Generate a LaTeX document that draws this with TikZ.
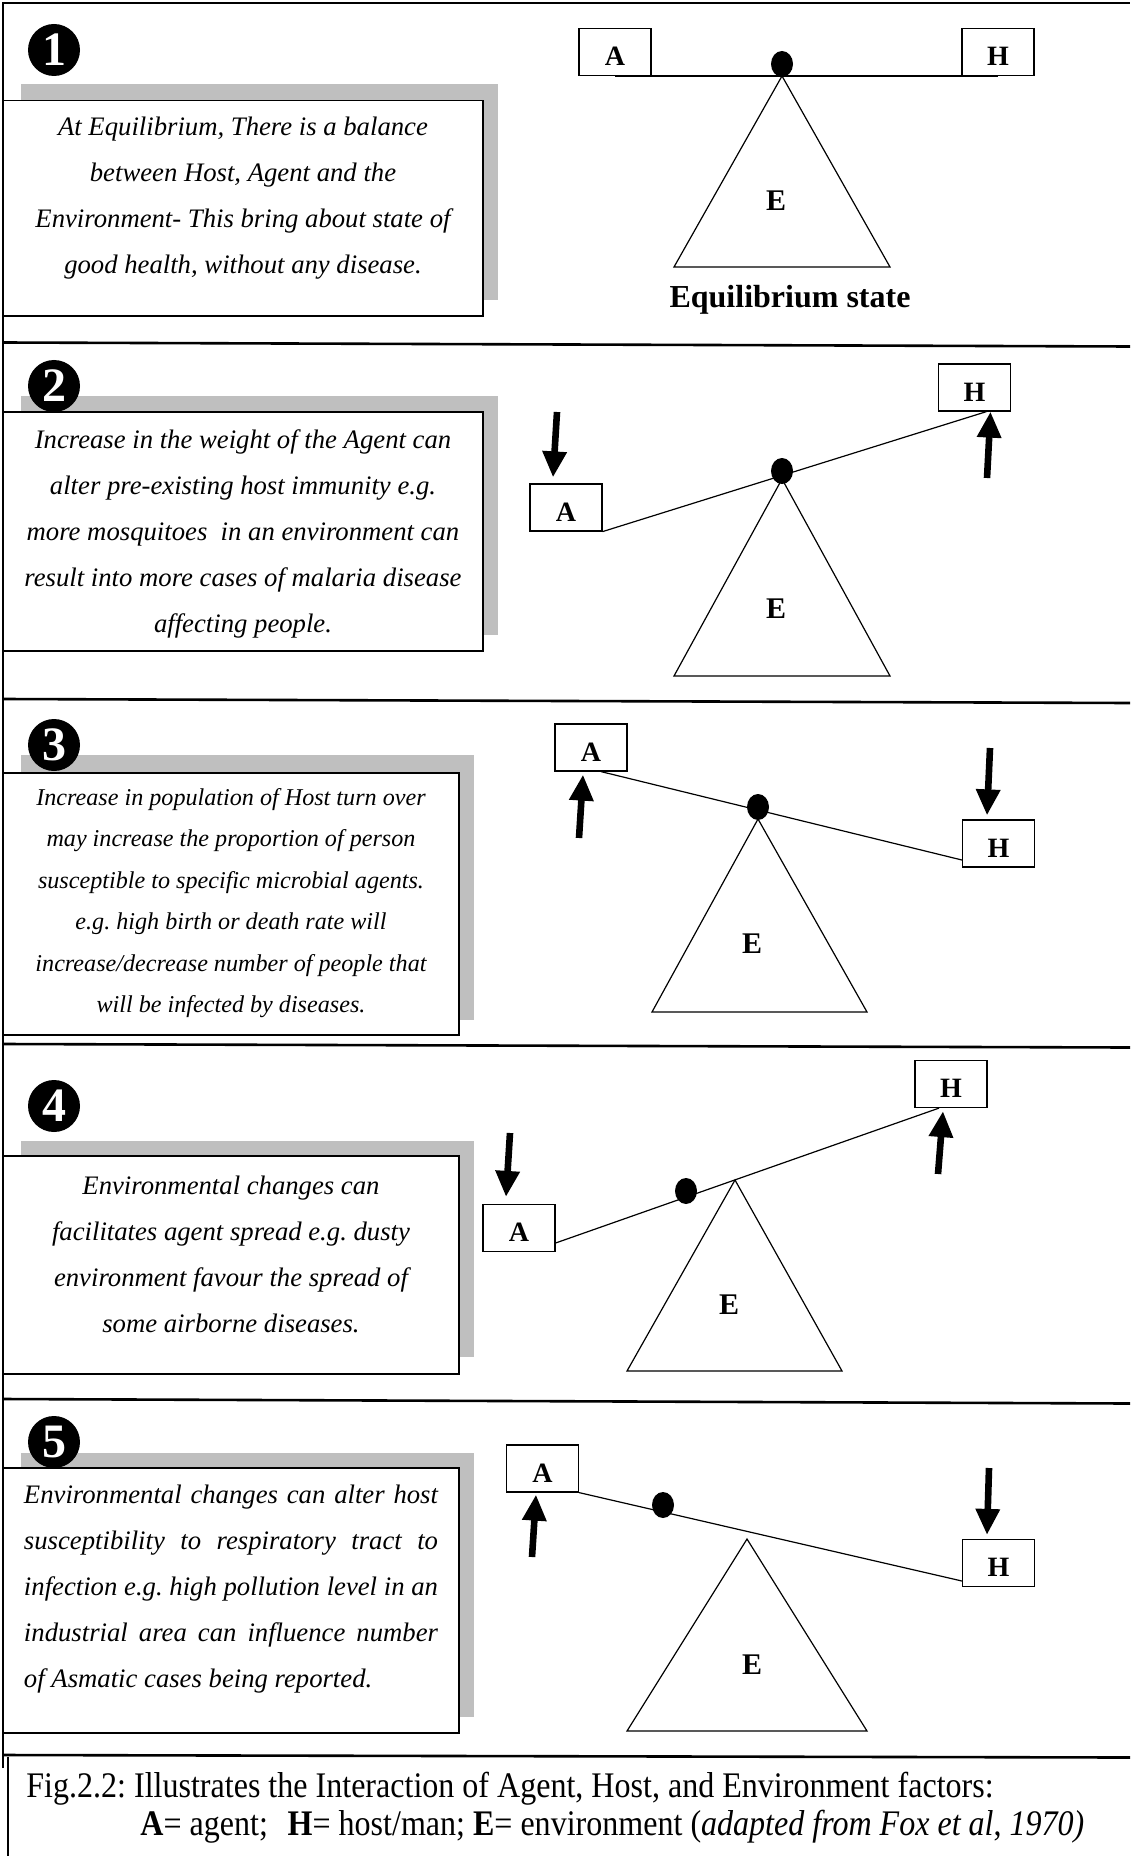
\documentclass[tikz,border=0pt]{standalone}
\usepackage{fontspec}
\setmainfont{Liberation Serif}
\newfontfamily\capfont[FakeStretch=0.89]{Liberation Serif}
\usetikzlibrary{arrows.meta,shapes.geometric}
\begin{document}
\frenchspacing
\begin{tikzpicture}[x=0.5pt,y=-0.5pt,
 frameline/.style={line width=1pt},
 sepline/.style={line width=1.3pt},
 shadowrect/.style={fill=black!25,draw=none},
 descrect/.style={draw,fill=white,line width=0.8pt},
 desc/.style={align=center,inner sep=0pt,font=\itshape\fontsize{13.35pt}{23pt}\selectfont},
 descsmall/.style={align=center,inner sep=0pt,font=\itshape\fontsize{12.07pt}{20.75pt}\selectfont},
 wbox/.style={draw,line width=0.6pt,fill=white,minimum width=36pt,minimum height=23.5pt,inner sep=0pt,text height=13.5pt,text depth=0pt,font=\bfseries\fontsize{14pt}{16pt}\selectfont},
 fulcrum/.style={draw,line width=0.6pt},
 beamline/.style={line width=0.6pt},
 pivot/.style={ellipse,fill=black,minimum width=11pt,minimum height=13pt,inner sep=0pt},
 bigarrow/.style={line width=3.3pt,-{Triangle[length=13pt,width=11.5pt]}},
 numcirc/.style={circle,fill=black,minimum size=26pt,inner sep=0pt,text=white,font=\bfseries\fontsize{24pt}{24pt}\selectfont},
 elabel/.style={inner sep=0pt,font=\bfseries\fontsize{15pt}{17pt}\selectfont},
 captext/.style={anchor=west,inner sep=0pt,font=\capfont\fontsize{18pt}{20pt}\selectfont}
]
\useasboundingbox (0,0) rectangle (1130,1856);
\fill[white] (0,0) rectangle (1130,1856);

% frame and separators
\draw[frameline] (3,1768) -- (3,3) -- (1130,3);
\draw[sepline] (3,342.5) -- (1130,346.5);
\draw[sepline] (3,699) -- (1130,703);
\draw[sepline] (3,1044) -- (1130,1047.5);
\draw[sepline] (3,1399) -- (1130,1403.5);
\draw[sepline] (3,1755) -- (1130,1757.5);
\draw[frameline] (8,1757) -- (8,1856);

% ---------- Panel 1 ----------
\fill[shadowrect] (21,84) rectangle (498,300);
\draw[descrect] (3.5,100.5) rectangle (483,316);
\node[desc] (t1) at (243,198) {At Equilibrium, There is a balance\\between Host, Agent and the\\Environment- This bring about state of\\good health, without any disease.};
\node[numcirc] (n1) at (54,50) {1};
\node[wbox] (A1) at (615,52) {A};
\node[wbox] (H1) at (998,52) {H};
\coordinate (T1) at (782,76);
\draw[fulcrum] (T1) -- (674,267) -- (890,267) -- cycle;
\draw[beamline] (A1.south) -- (H1.south);
\node[pivot] (P1) at (782,64) {};
\node[elabel] (E1) at (776,201) {E};
\node[inner sep=0pt,font=\bfseries\fontsize{16pt}{18pt}\selectfont] (eq) at (790,300) {Equilibrium state};

% ---------- Panel 2 ----------
\fill[shadowrect] (21,396) rectangle (498,635);
\draw[descrect] (3.5,412) rectangle (483,651);
\node[desc] (t2) at (243,534) {Increase in the weight of the Agent can\\alter pre-existing host immunity e.g.\\more mosquitoes\ \ in an environment can\\result into more cases of malaria disease\\affecting people.};
\node[numcirc] (n2) at (54,386) {2};
\node[wbox] (A2) at (566,507.5) {A};
\node[wbox] (H2) at (974.5,387.5) {H};
\coordinate (T2) at (782,479);
\draw[fulcrum] (T2) -- (674,676) -- (890,676) -- cycle;
\draw[beamline] (A2.south east) -- ([xshift=6pt]H2.south);
\node[pivot] (P2) at (782,471) {};
\node[elabel] (E2) at (776,609) {E};
\coordinate (a2) at (557,412);
\coordinate (h2) at (987,478);
\draw[bigarrow] (a2) -- ([xshift=-6.5pt,yshift=3pt]A2.north);
\draw[bigarrow] (h2) -- ([xshift=8pt]H2.south);

% ---------- Panel 3 ----------
\fill[shadowrect] (21,755) rectangle (474,1020);
\draw[descrect] (3.5,773) rectangle (459,1035);
\node[descsmall] (t3) at (231,903) {Increase in population of Host turn over\\may increase the proportion of person\\susceptible to specific microbial agents.\\e.g. high birth or death rate will\\increase/decrease number of people that\\will be infected by diseases.};
\node[numcirc] (n3) at (54,745) {3};
\node[wbox] (A3) at (591,747.5) {A};
\node[wbox] (H3) at (998.5,843.5) {H};
\coordinate (T3) at (758,819);
\draw[fulcrum] (T3) -- (652,1012) -- (867,1012) -- cycle;
\draw[beamline] ([xshift=5pt]A3.south) -- ([yshift=-8.25pt]H3.west);
\node[pivot] (P3) at (758,807) {};
\node[elabel] (E3) at (752,944) {E};
\coordinate (a3) at (579,838);
\coordinate (h3) at (990,748);
\draw[bigarrow] (a3) -- ([xshift=-4pt,yshift=-1.5pt]A3.south);
\draw[bigarrow] (h3) -- ([xshift=-5.75pt,yshift=2pt]H3.north);

% ---------- Panel 4 ----------
\fill[shadowrect] (21,1141) rectangle (474,1357);
\draw[descrect] (3.5,1156) rectangle (459,1374);
\node[desc] (t4) at (231,1254) {Environmental changes can\\facilitates agent spread e.g. dusty\\environment favour the spread of\\some airborne diseases.};
\node[numcirc] (n4) at (54,1106) {4};
\node[wbox] (A4) at (519,1228) {A};
\node[wbox] (H4) at (951,1084) {H};
\coordinate (T4) at (735,1180);
\draw[fulcrum] (T4) -- (627,1371) -- (842,1371) -- cycle;
\draw[beamline] ([yshift=-7.5pt]A4.east) -- ([xshift=-6pt]H4.south);
\node[pivot] (P4) at (686,1191) {};
\node[elabel] (E4) at (729,1305) {E};
\coordinate (a4) at (510,1133);
\coordinate (h4) at (938,1174);
\draw[bigarrow] (a4) -- ([xshift=-6.5pt,yshift=3.5pt]A4.north);
\draw[bigarrow] (h4) -- ([xshift=-4pt,yshift=-1.5pt]H4.south);

% ---------- Panel 5 ----------
\fill[shadowrect] (21,1453) rectangle (474,1717);
\draw[descrect] (3.5,1468) rectangle (459,1733);
\node[desc,align=left] (t5) at (231,1589) {\makebox[207pt][s]{Environmental changes can alter host}\\\makebox[207pt][s]{susceptibility to respiratory tract to}\\\makebox[207pt][s]{infection e.g. high pollution level in an}\\\makebox[207pt][s]{industrial area can influence number}\\of Asmatic cases being reported.};
\node[numcirc] (n5) at (54,1442) {5};
\node[wbox] (A5) at (542.5,1468.5) {A};
\node[wbox] (H5) at (998.5,1563) {H};
\coordinate (T5) at (747,1539);
\draw[fulcrum] (T5) -- (627,1731) -- (867,1731) -- cycle;
\draw[beamline] (A5.south east) -- ([yshift=-9pt]H5.west);
\node[pivot] (P5) at (663,1505) {};
\node[elabel] (E5) at (752,1665) {E};
\coordinate (a5) at (532,1557);
\coordinate (h5) at (989,1468);
\draw[bigarrow] (a5) -- ([xshift=-3.25pt,yshift=-1pt]A5.south);
\draw[bigarrow] (h5) -- ([xshift=-5.75pt,yshift=2pt]H5.north);

% ---------- Caption ----------
\node[captext] (cap1) at (26,1789) {Fig.2.2: Illustrates the Interaction of Agent, Host, and Environment factors:};
\node[captext] (cap2) at (140,1827) {\textbf{A}= agent;\hspace{0.55em}\textbf{H}= host/man; \textbf{E}= environment (\textit{adapted from Fox et al}, \textit{1970)}};
\end{tikzpicture}
\end{document}
